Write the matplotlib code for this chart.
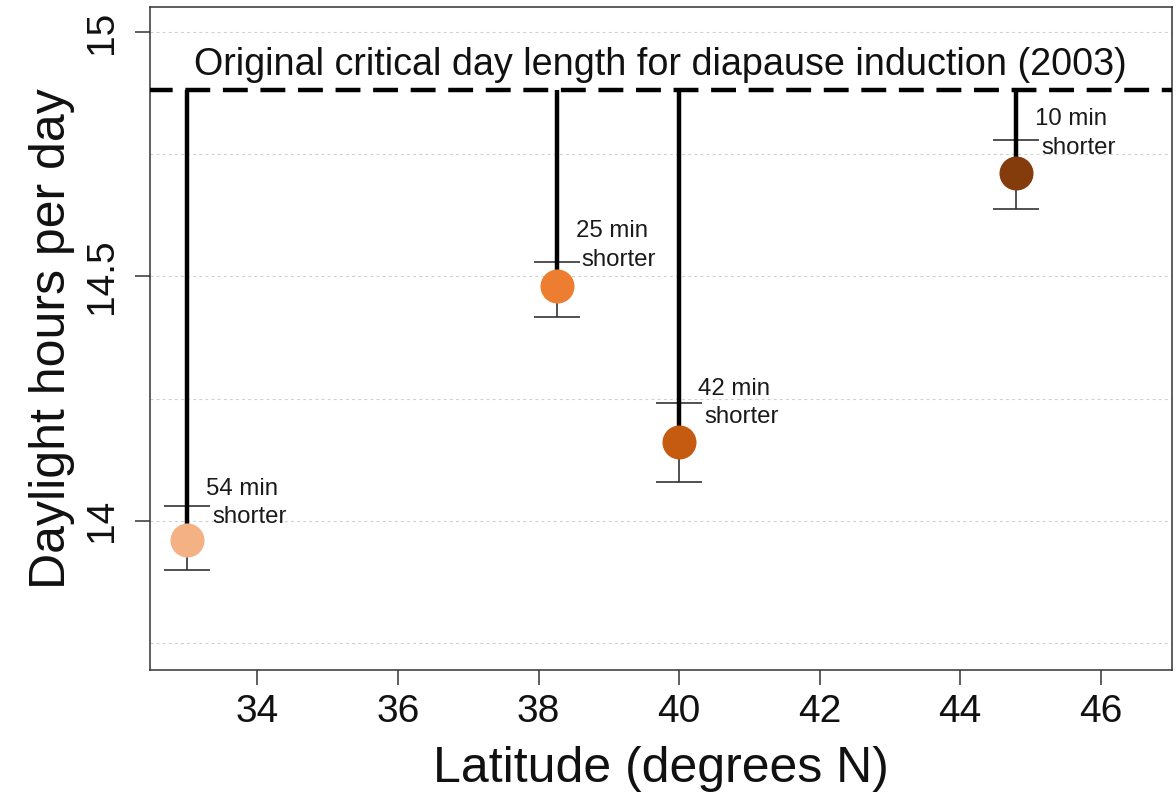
import matplotlib
matplotlib.use("Agg")
import matplotlib.pyplot as plt

# ---- data ----
latitude = [33.0, 38.26, 40.0, 44.8]
daylight = [13.960, 14.480, 14.162, 14.711]
err_low = [0.062, 0.062, 0.083, 0.072]
err_high = [0.069, 0.050, 0.079, 0.068]
point_colors = ["#F4B183", "#ED7D31", "#C55A11", "#843C0C"]
label_line1 = ["54 min", "25 min", "42 min", "10 min"]
label_line2 = ["shorter", "shorter", "shorter", "shorter"]
label_y = [14.0526, 14.580, 14.2574, 14.810]
critical_day_length = 14.882
critical_label = "Original critical day length for diapause induction (2003)"
x_ticks = [34, 36, 38, 40, 42, 44, 46]
y_ticks = [14, 14.5, 15]
y_tick_labels = ["14", "14.5", "15"]
grid_levels = [13.75, 14.0, 14.25, 14.5, 14.75, 15.0]

plt.rcParams["font.family"] = ["Liberation Sans", "DejaVu Sans"]

fig = plt.figure(figsize=(11.76, 7.94), dpi=100)
ax = fig.add_axes([150 / 1176, (794 - 669.5) / 794, 1021.5 / 1176, 662.5 / 794])
ax.set_xlim(32.47, 47.01)
ax.set_ylim(13.695, 15.052)

# grid
for g in grid_levels:
    ax.axhline(g, color="#cfcfcf", lw=0.8, ls=(0, (2.5, 3)), zorder=0)

# critical line
ax.axhline(critical_day_length, color="black", lw=3.2, ls=(0.5, (5.6, 2.85)), zorder=3)
ax.text(0.5, 14.9126, critical_label, transform=ax.get_yaxis_transform(),
        ha="center", va="baseline", fontsize=27.2, color="#111111", zorder=4)

# stems
for x, y in zip(latitude, daylight):
    ax.plot([x, x], [critical_day_length, y], color="black", lw=3.2,
            solid_capstyle="butt", zorder=3)

# error bars
ax.errorbar(latitude, daylight, yerr=[err_low, err_high], fmt="none",
            ecolor="#333333", elinewidth=1.2, capsize=16.5, capthick=1.2, zorder=2)

# points
for x, y, c in zip(latitude, daylight, point_colors):
    ax.plot([x], [y], marker="o", ms=24.5, color=c, mec="none", zorder=5)

# labels
for x, y, t1, t2 in zip(latitude, label_y, label_line1, label_line2):
    ax.annotate(t1, xy=(x + 0.27, y), xytext=(0, 0), textcoords="offset points",
                ha="left", va="baseline", fontsize=17.3, color="#1a1a1a", zorder=6)
    ax.annotate(t2, xy=(x + 0.27, y), xytext=(4.3, -20.5), textcoords="offset points",
                ha="left", va="baseline", fontsize=17.3, color="#1a1a1a", zorder=6)

# axes styling
for s in ax.spines.values():
    s.set_color("#333333")
    s.set_linewidth(1.1)
ax.set_xticks(x_ticks)
ax.set_yticks(y_ticks)
ax.set_yticklabels(y_tick_labels)
ax.tick_params(axis="both", length=10.8, width=1.1, color="#333333",
               labelsize=28, labelcolor="#111111")
ax.tick_params(axis="x", pad=7)
ax.tick_params(axis="y", pad=11)
for lab in ax.get_yticklabels():
    lab.set_rotation(90)
    lab.set_va("center")

ax.set_xlabel("Latitude (degrees N)", fontsize=36, labelpad=11, color="#111111")
ax.set_ylabel("Daylight hours per day", fontsize=36, labelpad=6, color="#111111")

fig.savefig("out.png", dpi=100)
